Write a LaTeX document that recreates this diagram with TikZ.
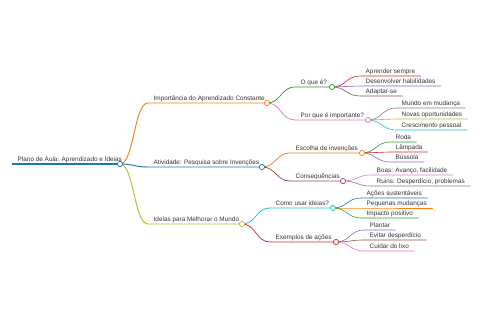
\documentclass[tikz,border=0pt]{standalone}
\usepackage{fontspec}
\setmainfont{Liberation Sans}
\usetikzlibrary{calc}
\definecolor{mmblue}{HTML}{1F77B4}
\definecolor{mmorange}{HTML}{FF7F0E}
\definecolor{mmgreen}{HTML}{2CA02C}
\definecolor{mmred}{HTML}{D62728}
\definecolor{mmpurple}{HTML}{9467BD}
\definecolor{mmbrown}{HTML}{8C564B}
\definecolor{mmpink}{HTML}{E377C2}
\definecolor{mmgray}{HTML}{7F7F7F}
\definecolor{mmolive}{HTML}{BCBD22}
\definecolor{mmcyan}{HTML}{17BECF}
\newcommand{\mmlink}[2]{(#1) .. controls ($(#1)+(14,0)$) and ($(#2)+(-14,0)$) .. (#2)}

\begin{document}
\begin{tikzpicture}[x=1pt, y=-1pt,
  every node/.style={font=\fontsize{6.4}{7.6}\selectfont, text=black!80},
  lbl/.style={anchor=base west, inner xsep=5.5pt, inner ysep=0pt},
  d0/.style={line width=1.2pt}, d1/.style={line width=0.95pt},
  d2/.style={line width=0.75pt}, d3/.style={line width=0.6pt},
  knob/.style={draw=#1, fill=white, line width=0.75pt}]
  \useasboundingbox (0,0) rectangle (480,320);
  % root
  \coordinate (root-s) at (12,164);
  \coordinate (root-e) at (120,164);
  \node[lbl] (root) at ([yshift=2.5pt]root-s) {Plano de Aula: Aprendizado e Ideias};
  % level 1
  \coordinate (imp-s) at (148,103);   \coordinate (imp-e) at (267,103);
  \coordinate (ativ-s) at (148,167);  \coordinate (ativ-e) at (262,167);
  \coordinate (idei-s) at (148,224);  \coordinate (idei-e) at (242,224);
  \node[lbl] (imp) at ([yshift=2.5pt]imp-s) {Importância do Aprendizado Constante};
  \node[lbl] (ativ) at ([yshift=2.5pt]ativ-s) {Atividade: Pesquisa sobre Invenções};
  \node[lbl] (idei) at ([yshift=2.5pt]idei-s) {Ideias para Melhorar o Mundo};
  % level 2
  \coordinate (oque-s) at (295,87);    \coordinate (oque-e) at (332,87);
  \coordinate (porq-s) at (295,120);   \coordinate (porq-e) at (368,120);
  \coordinate (esco-s) at (290,153);   \coordinate (esco-e) at (362,153);
  \coordinate (cons-s) at (290,181);   \coordinate (cons-e) at (343,181);
  \coordinate (como-s) at (270,208);   \coordinate (como-e) at (333,208);
  \coordinate (exem-s) at (270,242);   \coordinate (exem-e) at (336,242);
  \node[lbl] (oque) at ([yshift=2.5pt]oque-s) {O que é?};
  \node[lbl] (porq) at ([yshift=2.5pt]porq-s) {Por que é importante?};
  \node[lbl] (esco) at ([yshift=2.5pt]esco-s) {Escolha de invenções};
  \node[lbl] (cons) at ([yshift=2.5pt]cons-s) {Consequências};
  \node[lbl] (como) at ([yshift=2.5pt]como-s) {Como usar ideias?};
  \node[lbl] (exem) at ([yshift=2.5pt]exem-s) {Exemplos de ações};
  % level 3
  \coordinate (apre-s) at (360,76);
  \coordinate (dese-s) at (360,86);
  \coordinate (adap-s) at (360,96);
  \coordinate (mund-s) at (396,108);
  \coordinate (nova-s) at (396,119);
  \coordinate (cres-s) at (396,130);
  \coordinate (roda-s) at (390,142);
  \coordinate (lamp-s) at (390,152);
  \coordinate (buss-s) at (390,162);
  \coordinate (boas-s) at (371,175);
  \coordinate (ruin-s) at (371,186);
  \coordinate (acoe-s) at (361,198);
  \coordinate (pequ-s) at (361,208);
  \coordinate (impa-s) at (361,218);
  \coordinate (plan-s) at (364,230);
  \coordinate (evit-s) at (364,240);
  \coordinate (cuid-s) at (364,251);
  \node[lbl] (apre) at ([yshift=2.5pt]apre-s) {Aprender sempre};
  \node[lbl] (dese) at ([yshift=2.5pt]dese-s) {Desenvolver habilidades};
  \node[lbl] (adap) at ([yshift=2.5pt]adap-s) {Adaptar-se};
  \node[lbl] (mund) at ([yshift=2.5pt]mund-s) {Mundo em mudança};
  \node[lbl] (nova) at ([yshift=2.5pt]nova-s) {Novas oportunidades};
  \node[lbl] (cres) at ([yshift=2.5pt]cres-s) {Crescimento pessoal};
  \node[lbl] (roda) at ([yshift=2.5pt]roda-s) {Roda};
  \node[lbl] (lamp) at ([yshift=2.5pt]lamp-s) {Lâmpada};
  \node[lbl] (buss) at ([yshift=2.5pt]buss-s) {Bússola};
  \node[lbl] (boas) at ([yshift=2.5pt]boas-s) {Boas: Avanço, facilidade};
  \node[lbl] (ruin) at ([yshift=2.5pt]ruin-s) {Ruins: Desperdício, problemas};
  \node[lbl] (acoe) at ([yshift=2.5pt]acoe-s) {Ações sustentáveis};
  \node[lbl] (pequ) at ([yshift=2.5pt]pequ-s) {Pequenas mudanças};
  \node[lbl] (impa) at ([yshift=2.5pt]impa-s) {Impacto positivo};
  \node[lbl] (plan) at ([yshift=2.5pt]plan-s) {Plantar};
  \node[lbl] (evit) at ([yshift=2.5pt]evit-s) {Evitar desperdício};
  \node[lbl] (cuid) at ([yshift=2.5pt]cuid-s) {Cuidar do lixo};

  % links to level 3
  \draw[d3, mmred]    \mmlink{oque-e}{apre-s} -- (apre-s -| apre.east);
  \draw[d3, mmpurple] \mmlink{oque-e}{dese-s} -- (dese-s -| dese.east);
  \draw[d3, mmbrown]  \mmlink{oque-e}{adap-s} -- (adap-s -| adap.east);
  \draw[d3, mmgray]   \mmlink{porq-e}{mund-s} -- (mund-s -| mund.east);
  \draw[d3, mmolive]  \mmlink{porq-e}{nova-s} -- (nova-s -| nova.east);
  \draw[d3, mmcyan]   \mmlink{porq-e}{cres-s} -- (cres-s -| cres.east);
  \draw[d3, mmgreen]  \mmlink{esco-e}{roda-s} -- (roda-s -| roda.east);
  \draw[d3, mmred]    \mmlink{esco-e}{lamp-s} -- (lamp-s -| lamp.east);
  \draw[d3, mmpurple] \mmlink{esco-e}{buss-s} -- (buss-s -| buss.east);
  \draw[d3, mmpink]   \mmlink{cons-e}{boas-s} -- (boas-s -| boas.east);
  \draw[d3, mmgray]   \mmlink{cons-e}{ruin-s} -- (ruin-s -| ruin.east);
  \draw[d3, mmblue]   \mmlink{como-e}{acoe-s} -- (acoe-s -| acoe.east);
  \draw[d3, mmorange] \mmlink{como-e}{pequ-s} -- (pequ-s -| pequ.east);
  \draw[d3, mmgreen]  \mmlink{como-e}{impa-s} -- (impa-s -| impa.east);
  \draw[d3, mmpurple] \mmlink{exem-e}{plan-s} -- (plan-s -| plan.east);
  \draw[d3, mmbrown]  \mmlink{exem-e}{evit-s} -- (evit-s -| evit.east);
  \draw[d3, mmpink]   \mmlink{exem-e}{cuid-s} -- (cuid-s -| cuid.east);
  % links to level 2
  \draw[d2, mmgreen]  \mmlink{imp-e}{oque-s} -- (oque-e);
  \draw[d2, mmpink]   \mmlink{imp-e}{porq-s} -- (porq-e);
  \draw[d2, mmorange] \mmlink{ativ-e}{esco-s} -- (esco-e);
  \draw[d2, mmbrown]  \mmlink{ativ-e}{cons-s} -- (cons-e);
  \draw[d2, mmcyan]   \mmlink{idei-e}{como-s} -- (como-e);
  \draw[d2, mmred]    \mmlink{idei-e}{exem-s} -- (exem-e);
  % links to level 1
  \draw[d1, mmorange] \mmlink{root-e}{imp-s} -- (imp-e);
  \draw[d1, mmblue]   \mmlink{root-e}{ativ-s} -- (ativ-e);
  \draw[d1, mmolive]  \mmlink{root-e}{idei-s} -- (idei-e);
  \draw[d0, mmblue] (root-s) -- (root-e);
  % knobs
  \draw[knob=mmblue]   (root-e) circle (2.6);
  \draw[knob=mmorange] (imp-e) circle (2.6);
  \draw[knob=mmblue]   (ativ-e) circle (2.6);
  \draw[knob=mmolive]  (idei-e) circle (2.6);
  \draw[knob=mmgreen]  (oque-e) circle (2.6);
  \draw[knob=mmpink]   (porq-e) circle (2.6);
  \draw[knob=mmorange] (esco-e) circle (2.6);
  \draw[knob=mmbrown]  (cons-e) circle (2.6);
  \draw[knob=mmcyan]   (como-e) circle (2.6);
  \draw[knob=mmred]    (exem-e) circle (2.6);
\end{tikzpicture}
\end{document}
